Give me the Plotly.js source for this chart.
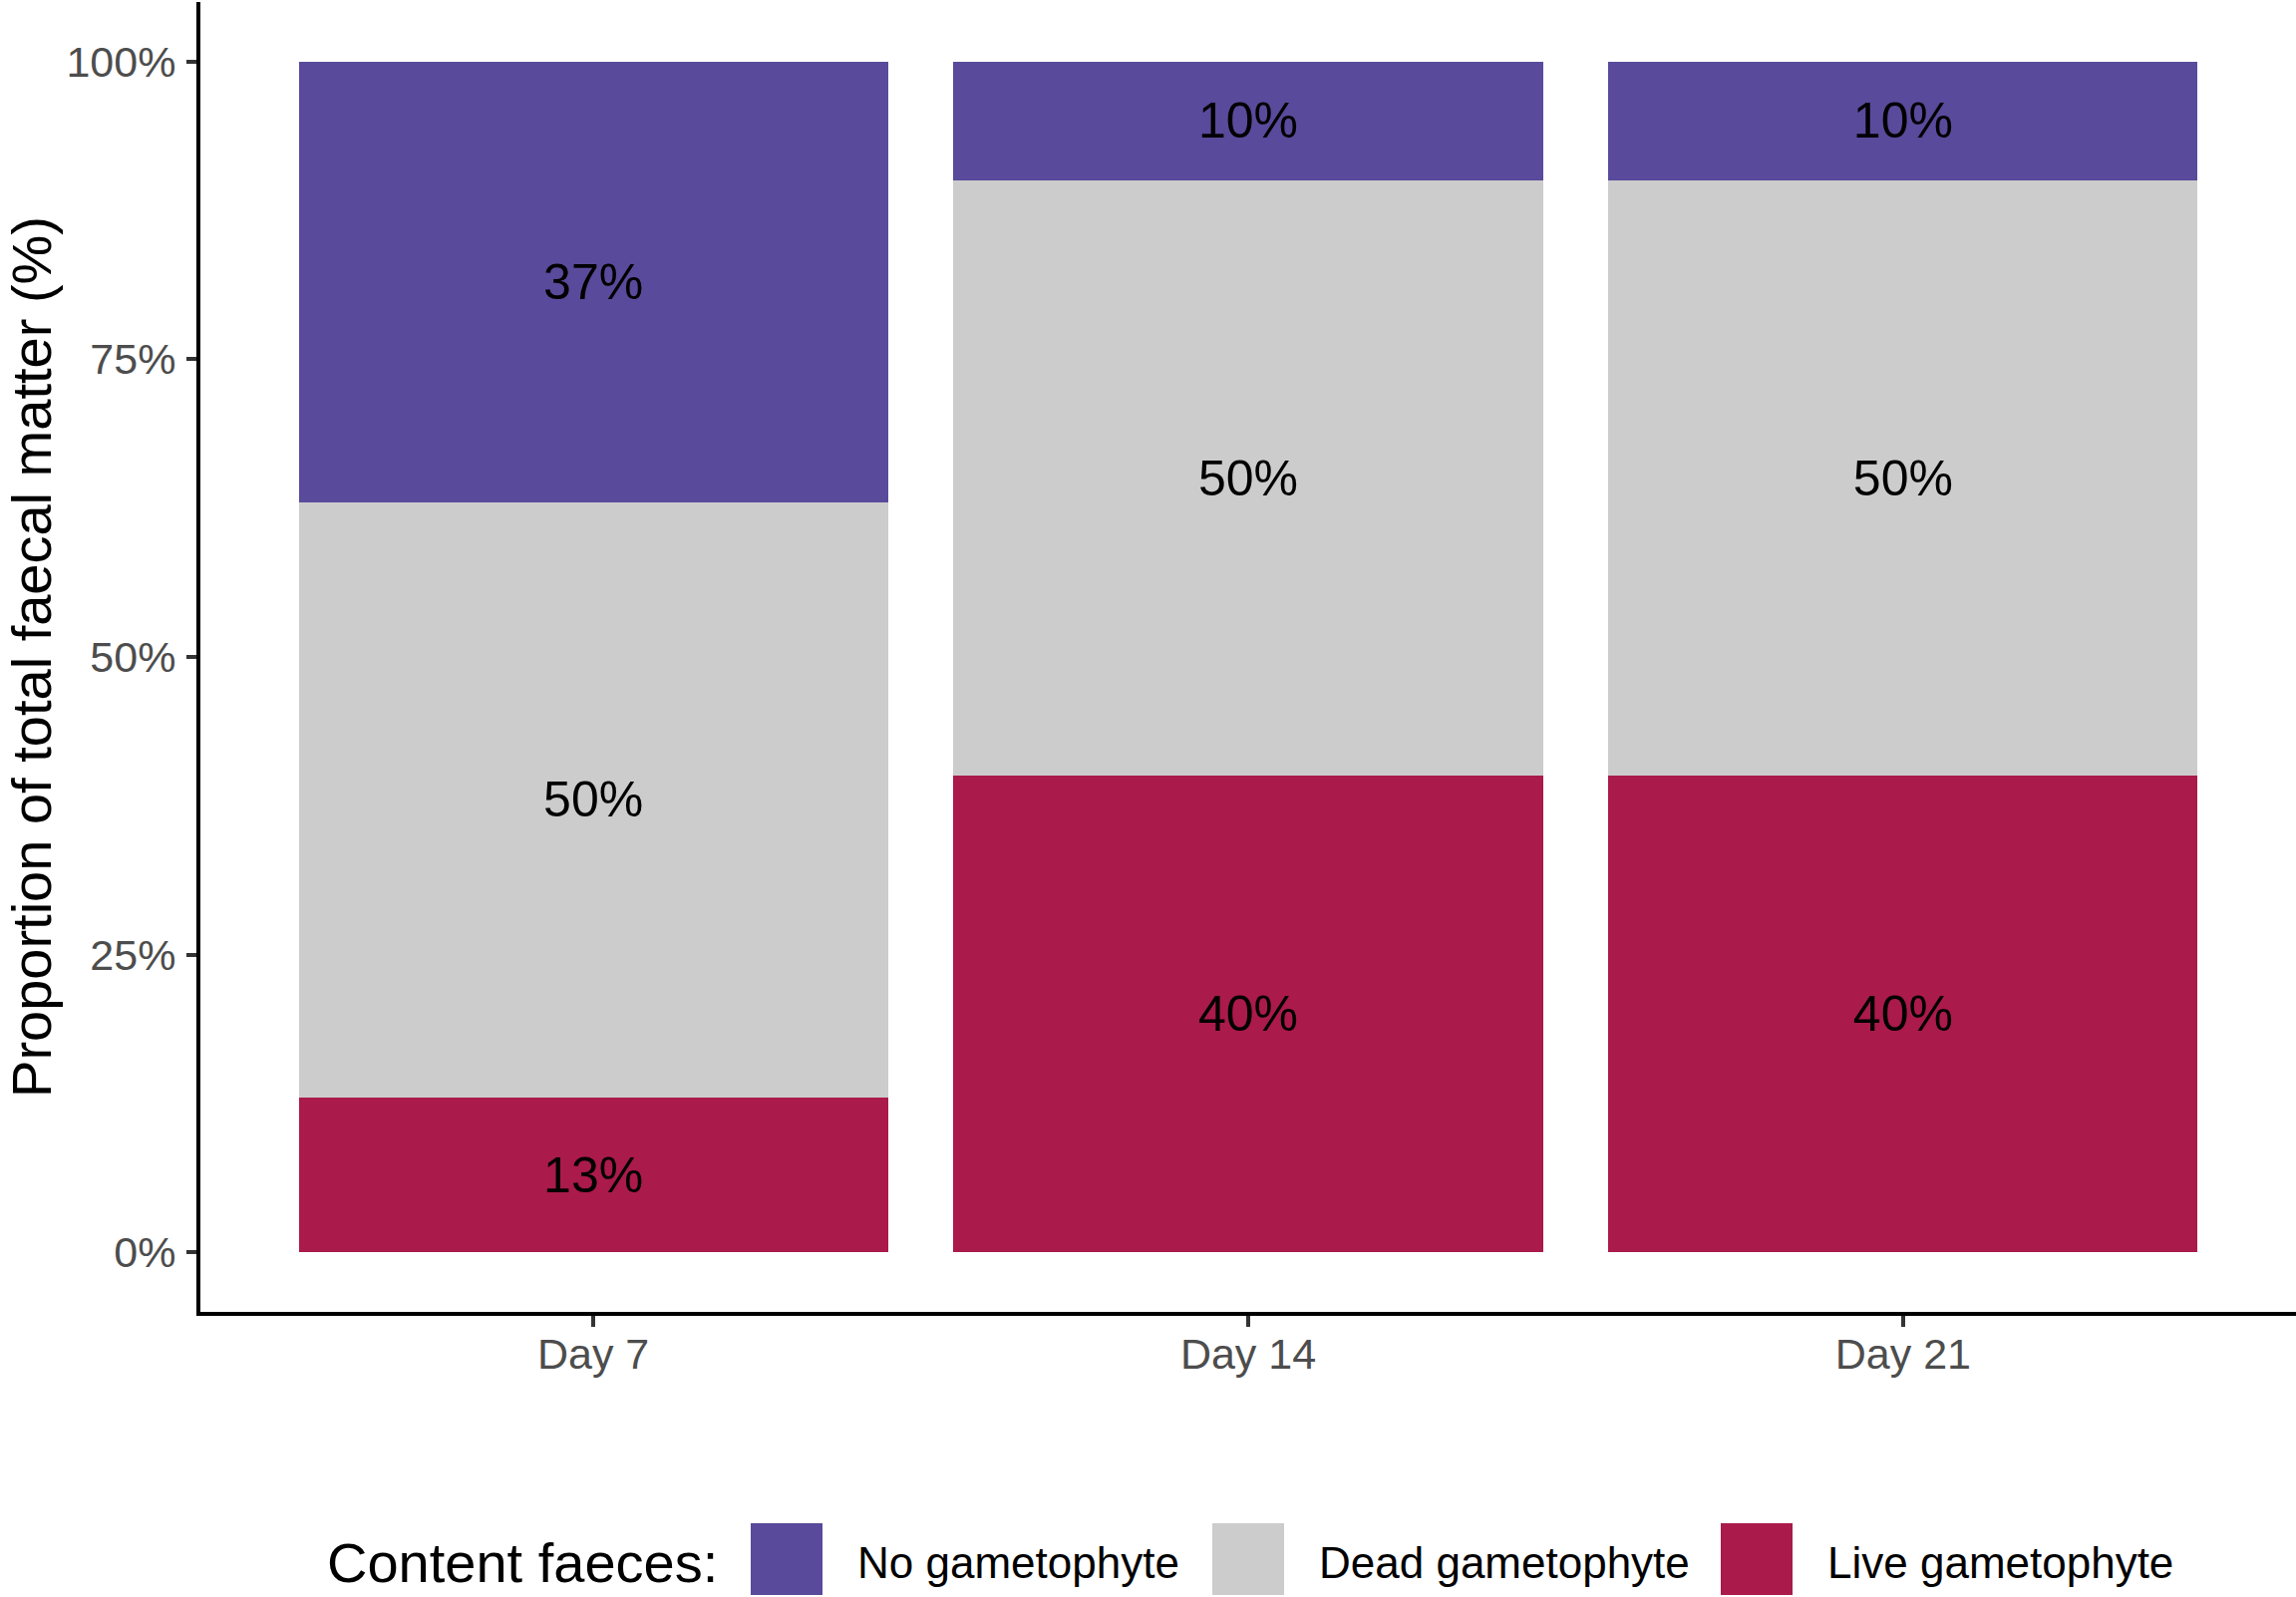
<!DOCTYPE html>
<html>
<head>
<meta charset="utf-8">
<script src="https://cdn.plot.ly/plotly-3.0.1.min.js"></script>
<style>html,body{margin:0;padding:0;background:#fff;}#chart{width:2303px;height:1602px;}</style>
</head>
<body>
<div id="chart"></div>
<script>
// ---- data ----
const categories = ['Day 7', 'Day 14', 'Day 21'];
const liveGametophyte = [13, 40, 40];
const deadGametophyte = [50, 50, 50];
const noGametophyte = [37, 10, 10];
const seriesNames = ['No gametophyte', 'Dead gametophyte', 'Live gametophyte'];
const seriesColors = ['#594A9B', '#CCCCCC', '#AA1A4A'];
const yTickValues = [0, 25, 50, 75, 100];
const yTickLabels = ['0%', '25%', '50%', '75%', '100%'];
const legendTitle = 'Content faeces:';
const yTitle = 'Proportion of total faecal matter (%)';

const W = 2303, H = 1602;
const M = {l: 201, r: 0, t: 2, b: 286};
const PW = W - M.l - M.r, PH = H - M.t - M.b;
const px2x = p => (p - M.l) / PW;
const px2y = p => (H - M.b - p) / PH;

const font = 'Liberation Sans, Arial, sans-serif';

function barTrace(vals, idx) {
  return {
    type: 'bar',
    x: categories,
    y: vals,
    name: seriesNames[idx],
    marker: {color: seriesColors[idx], line: {width: 0}},
    text: vals.map(v => v + '%'),
    texttemplate: '%{text}',
    textposition: 'inside',
    insidetextanchor: 'middle',
    textangle: 0,
    constraintext: 'none',
    textfont: {family: font, size: 50, color: '#000000'},
    hoverinfo: 'x+y+name',
    showlegend: false
  };
}

const data = [
  barTrace(liveGametophyte, 2),
  barTrace(deadGametophyte, 1),
  barTrace(noGametophyte, 0)
];

// custom legend (large keys)
const keyLeft = [753, 1216, 1726];
const keyW = 72, keyTop = 1528, keyBot = 1600, legendMid = 1567;
const shapes = [], annotations = [];
seriesNames.forEach((n, i) => {
  shapes.push({type: 'rect', xref: 'paper', yref: 'paper',
    x0: px2x(keyLeft[i]), x1: px2x(keyLeft[i] + keyW),
    y0: px2y(keyBot), y1: px2y(keyTop),
    fillcolor: seriesColors[i], line: {width: 0}, layer: 'above'});
  annotations.push({xref: 'paper', yref: 'paper', x: px2x(keyLeft[i] + keyW + 33), y: px2y(legendMid),
    xanchor: 'left', yanchor: 'middle', showarrow: false, text: n,
    font: {family: font, size: 44, color: '#000000'}});
});
annotations.push({xref: 'paper', yref: 'paper', x: px2x(722), y: px2y(legendMid),
  xanchor: 'right', yanchor: 'middle', showarrow: false, text: legendTitle,
  font: {family: font, size: 56, color: '#000000'}});

const layout = {
  width: W, height: H,
  margin: M,
  paper_bgcolor: '#ffffff', plot_bgcolor: '#ffffff',
  barmode: 'stack',
  bargap: 0.1,
  showlegend: false,
  font: {family: font},
  xaxis: {
    type: 'category',
    range: [-0.6, 2.6],
    showgrid: false, zeroline: false,
    showline: true, linecolor: '#000000', linewidth: 4,
    ticks: 'outside', ticklen: 11, tickwidth: 4, tickcolor: '#333333',
    tickfont: {family: font, size: 43, color: '#4D4D4D'},
    ticklabelstandoff: -10,
    fixedrange: true
  },
  yaxis: {
    range: [-5, 105],
    tickvals: yTickValues, ticktext: yTickLabels,
    showgrid: false, zeroline: false,
    showline: true, linecolor: '#000000', linewidth: 4,
    ticks: 'outside', ticklen: 10, tickwidth: 4, tickcolor: '#333333',
    tickfont: {family: font, size: 43, color: '#4D4D4D'},
    ticklabelstandoff: 2,
    title: {text: yTitle, font: {family: font, size: 56, color: '#000000'}, standoff: 32},
    automargin: false,
    fixedrange: true
  },
  shapes: shapes,
  annotations: annotations
};

Plotly.newPlot('chart', data, layout, {displayModeBar: false, staticPlot: true});
</script>
</body>
</html>
